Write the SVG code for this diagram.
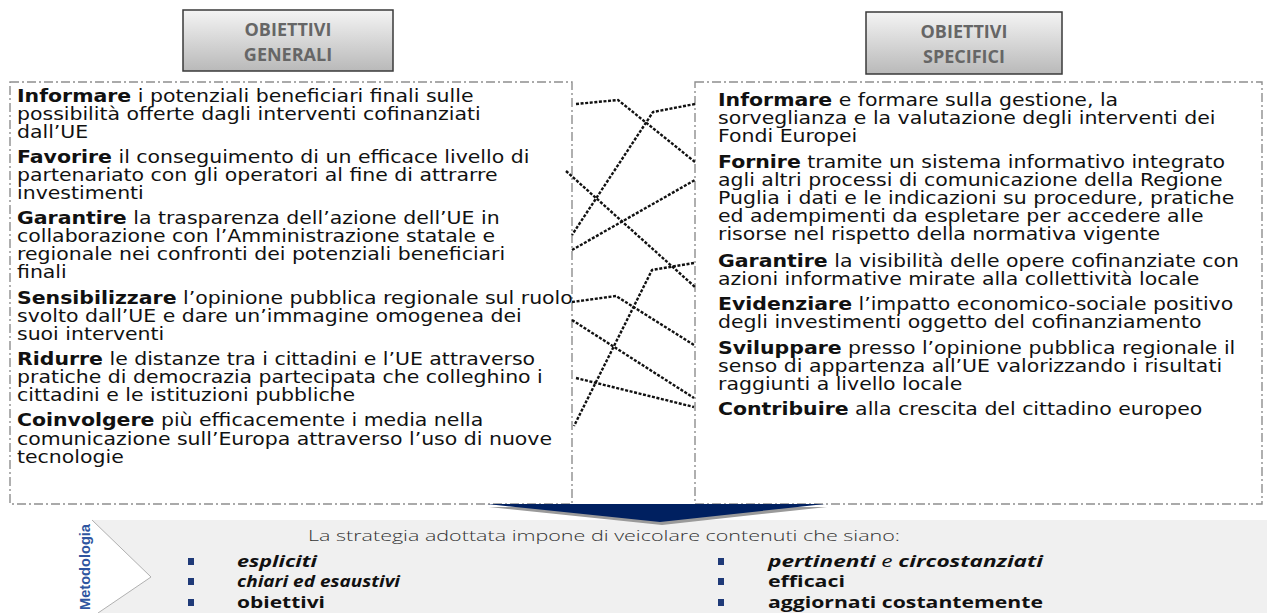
<svg xmlns="http://www.w3.org/2000/svg" width="1267" height="613" viewBox="0 0 1267 613">
<defs>
<linearGradient id="hdr" x1="0" y1="0" x2="0" y2="1">
<stop offset="0" stop-color="#f4f4f4"/>
<stop offset="1" stop-color="#b9b9b9"/>
</linearGradient>
<style>
.hbox{fill:url(#hdr);stroke:#3a3a3a;stroke-width:1.5}
.htxt{font-family:"Open Sans","DejaVu Sans",sans-serif;font-weight:bold;font-size:18px;fill:#666;text-anchor:middle}
.frame{fill:none;stroke:#8e8e8e;stroke-width:1.4;stroke-dasharray:9 3 2 3}
.t{font-family:"DejaVu Sans",Verdana,sans-serif;font-size:17px;fill:#111}
.b{font-weight:bold}
.con{fill:none;stroke:#111;stroke-width:2.4;stroke-dasharray:3 1.6}
.band{fill:#f0f0f0}
.chev{fill:none;stroke:#b0b0b0;stroke-width:1}
.lead{font-family:"Open Sans","DejaVu Sans",sans-serif;font-size:15px;font-weight:300;fill:#333}
.bl{font-family:"Open Sans","DejaVu Sans",sans-serif;font-size:16px;font-weight:bold;fill:#111}
.it{font-style:italic}
.nb{font-weight:normal}
.sq{fill:#1f3a78}
.meto{font-family:"Liberation Sans",Arial,sans-serif;font-size:15px;font-weight:bold;fill:#2f55a0}
</style>
</defs>

<g id="header-generali">
<rect class="hbox" x="183" y="10" width="210" height="61"/>
<text class="htxt" x="288" y="36">OBIETTIVI</text>
<text class="htxt" x="288" y="61">GENERALI</text>
</g>

<g id="header-specifici">
<rect class="hbox" x="866" y="12" width="196" height="62"/>
<text class="htxt" x="964" y="38">OBIETTIVI</text>
<text class="htxt" x="964" y="63">SPECIFICI</text>
</g>

<g id="obiettivi-generali">
<rect class="frame" x="10" y="82" width="562" height="422"/>
<g transform="translate(17 0) scale(1.203 1)">
<text class="t" x="0" y="102"><tspan class="b">Informare</tspan> i potenziali beneficiari finali sulle</text>
<text class="t" x="0" y="120">possibilità offerte dagli interventi cofinanziati</text>
<text class="t" x="0" y="138">dall’UE</text>
<text class="t" x="0" y="163"><tspan class="b">Favorire</tspan> il conseguimento  di un efficace livello di</text>
<text class="t" x="0" y="181">partenariato con gli operatori al fine di attrarre</text>
<text class="t" x="0" y="199">investimenti</text>
<text class="t" x="0" y="224"><tspan class="b">Garantire</tspan> la trasparenza dell’azione dell’UE in</text>
<text class="t" x="0" y="242">collaborazione con l’Amministrazione statale e</text>
<text class="t" x="0" y="260">regionale nei confronti dei potenziali beneficiari</text>
<text class="t" x="0" y="278">finali</text>
<text class="t" x="0" y="304"><tspan class="b">Sensibilizzare</tspan> l’opinione pubblica regionale sul ruolo</text>
<text class="t" x="0" y="322">svolto dall’UE e dare un’immagine omogenea dei</text>
<text class="t" x="0" y="340">suoi interventi</text>
<text class="t" x="0" y="365"><tspan class="b">Ridurre</tspan> le distanze tra i cittadini e l’UE attraverso</text>
<text class="t" x="0" y="383">pratiche di democrazia partecipata che colleghino i</text>
<text class="t" x="0" y="401">cittadini e le istituzioni pubbliche</text>
<text class="t" x="0" y="426"><tspan class="b">Coinvolgere</tspan> più efficacemente i media nella</text>
<text class="t" x="0" y="445">comunicazione sull’Europa attraverso l’uso di nuove</text>
<text class="t" x="0" y="463">tecnologie</text>
</g>
</g>

<g id="obiettivi-specifici">
<rect class="frame" x="695" y="82" width="567" height="422"/>
<g transform="translate(718 0) scale(1.203 1)">
<text class="t" x="0" y="106"><tspan class="b">Informare</tspan> e formare sulla gestione, la</text>
<text class="t" x="0" y="124">sorveglianza e la valutazione degli interventi dei</text>
<text class="t" x="0" y="142">Fondi Europei</text>
<text class="t" x="0" y="168"><tspan class="b">Fornire</tspan> tramite un sistema informativo integrato</text>
<text class="t" x="0" y="186">agli altri processi di comunicazione della Regione</text>
<text class="t" x="0" y="204">Puglia i dati e le indicazioni su procedure, pratiche</text>
<text class="t" x="0" y="222">ed adempimenti da espletare per accedere alle</text>
<text class="t" x="0" y="240">risorse nel rispetto della normativa vigente</text>
<text class="t" x="0" y="267"><tspan class="b">Garantire</tspan> la visibilità delle opere cofinanziate con</text>
<text class="t" x="0" y="285">azioni informative mirate alla collettività locale</text>
<text class="t" x="0" y="310"><tspan class="b">Evidenziare</tspan> l’impatto economico-sociale  positivo</text>
<text class="t" x="0" y="328">degli investimenti oggetto del cofinanziamento</text>
<text class="t" x="0" y="354"><tspan class="b">Sviluppare</tspan> presso  l’opinione pubblica regionale il</text>
<text class="t" x="0" y="372">senso di appartenza all’UE valorizzando i risultati</text>
<text class="t" x="0" y="390">raggiunti a livello locale</text>
<text class="t" x="0" y="415"><tspan class="b">Contribuire</tspan> alla crescita del cittadino europeo</text>
</g>
</g>

<g id="connectors">
<polyline class="con" points="576,104 618,100 695,162"/>
<polyline class="con" points="695,104 653,112 572,235"/>
<polyline class="con" points="566,171 695,287"/>
<polyline class="con" points="572,250 695,180"/>
<polyline class="con" points="694,263 652,270 574,426"/>
<polyline class="con" points="572,302 616,296 694,345"/>
<polyline class="con" points="572,320 694,398"/>
<polyline class="con" points="576,378 694,407"/>
</g>

<g id="metodologia">
<polygon class="band" points="92,520 1267,520 1267,613 98,613 151,577"/>
<polyline class="chev" points="92,520 151,577 98,613"/>
<text class="meto" transform="translate(90 567) rotate(-90)" text-anchor="middle" textLength="86" lengthAdjust="spacingAndGlyphs">Metodologia</text>
<text class="lead" x="308" y="541" textLength="592" lengthAdjust="spacingAndGlyphs">La strategia adottata impone di veicolare contenuti che siano:</text>
<rect class="sq" x="188" y="558" width="6" height="7"/>
<rect class="sq" x="188" y="578" width="6" height="7"/>
<rect class="sq" x="188" y="599" width="6" height="7"/>
<rect class="sq" x="718" y="558" width="6" height="7"/>
<rect class="sq" x="718" y="578" width="6" height="7"/>
<rect class="sq" x="718" y="599" width="6" height="7"/>
<text class="bl it" x="237" y="567" textLength="80" lengthAdjust="spacingAndGlyphs">espliciti</text>
<text class="bl it" x="237" y="587" textLength="163" lengthAdjust="spacingAndGlyphs">chiari ed esaustivi</text>
<text class="bl" x="237" y="608" textLength="88" lengthAdjust="spacingAndGlyphs">obiettivi</text>
<text class="bl it" x="768" y="567" textLength="275" lengthAdjust="spacingAndGlyphs">pertinenti <tspan class="nb">e</tspan> circostanziati</text>
<text class="bl" x="768" y="587" textLength="77" lengthAdjust="spacingAndGlyphs">efficaci</text>
<text class="bl" x="768" y="608" textLength="275" lengthAdjust="spacingAndGlyphs">aggiornati costantemente</text>
</g>

<g id="freccia">
<polygon points="489,507 827,507 662,525" fill="#9a9a9a"/>
<polygon points="487,504 825,504 660,522" fill="#002060"/>
</g>
</svg>
